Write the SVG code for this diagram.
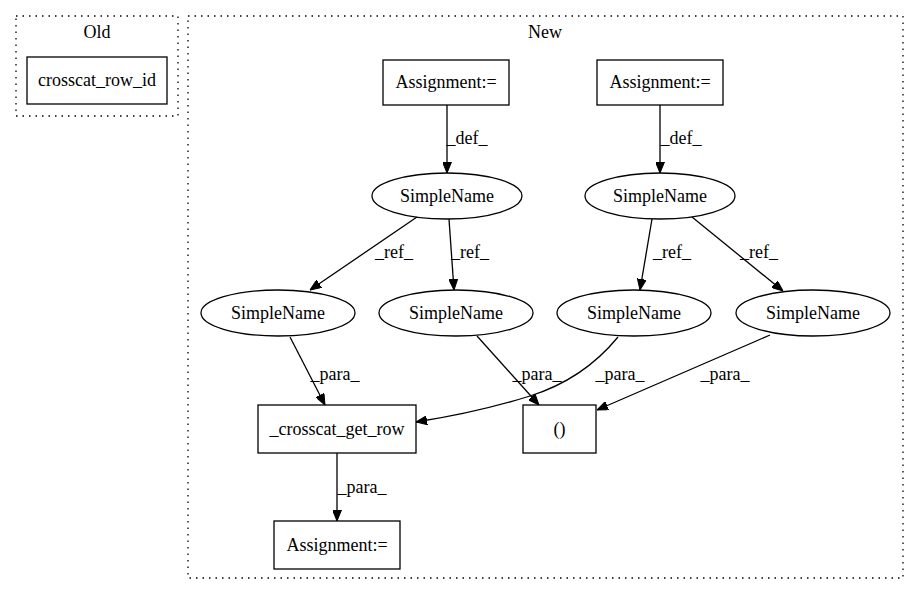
<svg xmlns="http://www.w3.org/2000/svg" width="917" height="596" viewBox="0 0 917 596">
<style>
text{font-family:"Liberation Serif","Times New Roman",serif;font-size:18px;fill:#000;text-anchor:middle}
.cl{fill:none;stroke:#000;stroke-dasharray:1.5,5;stroke-width:1.3}
.n{fill:#fff;stroke:#000;stroke-width:1.3}
.e{fill:none;stroke:#000;stroke-width:1.3;marker-end:url(#ah)}
</style>
<defs>
<marker id="ah" markerWidth="11" markerHeight="9" refX="11" refY="4.5" orient="auto" markerUnits="userSpaceOnUse">
<path d="M0,0 L11,4.5 L0,9 z" fill="#000" stroke="#000"/>
</marker>
</defs>
<rect width="917" height="596" fill="#fff"/>
<g id="cluster_old">
<rect class="cl" x="16" y="16" width="162" height="100"/>
<text x="97" y="38">Old</text>
</g>
<g id="cluster_new">
<rect class="cl" x="188" y="16" width="715" height="562"/>
<text x="545" y="38">New</text>
</g>
<g id="n_crosscat_row_id"><rect class="n" x="27" y="57" width="140" height="47"/><text x="97" y="86">crosscat_row_id</text></g>
<g id="n_assign1"><rect class="n" x="383" y="60" width="126" height="45"/><text x="446" y="88">Assignment:=</text></g>
<g id="n_assign2"><rect class="n" x="597" y="60" width="126" height="45"/><text x="660" y="88">Assignment:=</text></g>
<g id="n_sn1"><ellipse class="n" cx="447" cy="196" rx="75" ry="23"/><text x="447" y="202">SimpleName</text></g>
<g id="n_sn2"><ellipse class="n" cx="660" cy="196" rx="75" ry="23"/><text x="660" y="202">SimpleName</text></g>
<g id="n_sn3"><ellipse class="n" cx="278" cy="313" rx="77" ry="23"/><text x="278" y="319">SimpleName</text></g>
<g id="n_sn4"><ellipse class="n" cx="456" cy="313" rx="77" ry="23"/><text x="456" y="319">SimpleName</text></g>
<g id="n_sn5"><ellipse class="n" cx="634" cy="313" rx="77" ry="23"/><text x="634" y="319">SimpleName</text></g>
<g id="n_sn6"><ellipse class="n" cx="813" cy="313" rx="77" ry="23"/><text x="813" y="319">SimpleName</text></g>
<g id="n_getrow"><rect class="n" x="258" y="405" width="158" height="48"/><text x="337" y="435">_crosscat_get_row</text></g>
<g id="n_tuple"><rect class="n" x="523" y="405" width="73" height="48"/><text x="559.5" y="435">()</text></g>
<g id="n_assign3"><rect class="n" x="274" y="521" width="126" height="48"/><text x="337" y="551">Assignment:=</text></g>
<g id="edges">
<path class="e" d="M447,105 L447,173"/>
<text x="467" y="144">_def_</text>
<path class="e" d="M660,105 L660,173"/>
<text x="681" y="144">_def_</text>
<path class="e" d="M417,217 L310,290"/>
<text x="394" y="258">_ref_</text>
<path class="e" d="M449,219 L454,290"/>
<text x="470" y="258">_ref_</text>
<path class="e" d="M652,219 L640,290"/>
<text x="672" y="258">_ref_</text>
<path class="e" d="M692,217 L783,291"/>
<text x="759" y="258">_ref_</text>
<path class="e" d="M290,337 L325,405"/>
<text x="335" y="380">_para_</text>
<path class="e" d="M477,336 L539,405"/>
<text x="537" y="380">_para_</text>
<path class="e" d="M618,337 C595,365 565,385 530,396 C495,407 455,416 416,422"/>
<text x="620" y="380">_para_</text>
<path class="e" d="M770,335 L597,410"/>
<text x="725" y="380">_para_</text>
<path class="e" d="M337,453 L337,521"/>
<text x="362" y="493">_para_</text>
</g>
</svg>
